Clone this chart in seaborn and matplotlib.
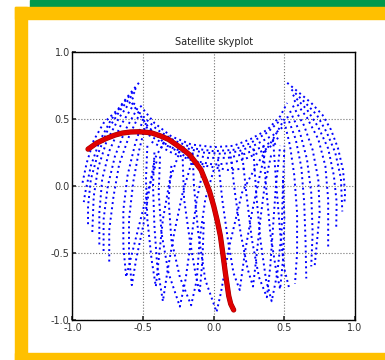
import pandas as pd
import matplotlib
matplotlib.use('Agg')
import matplotlib.pyplot as plt
import matplotlib.patheffects as pe
from matplotlib.patches import Rectangle
import seaborn as sns

# satellite tracks (x = east, y = north, unit circle)
track_x = {
    # left fan
    'F1': [-0.53, -0.60, -0.68, -0.78, -0.85, -0.90, -0.93],
    'F2': [-0.55, -0.64, -0.73, -0.81, -0.87, -0.91, -0.92],
    'F3': [-0.56, -0.66, -0.75, -0.82, -0.87, -0.89, -0.89],
    'F4': [-0.57, -0.67, -0.76, -0.82, -0.85, -0.86],
    'F5': [-0.56, -0.66, -0.74, -0.79, -0.81, -0.81],
    'F6': [-0.54, -0.63, -0.70, -0.75, -0.78, -0.78],
    'F7': [-0.52, -0.60, -0.67, -0.71, -0.74, -0.74],
    'F8': [-0.50, -0.56, -0.61, -0.64, -0.64, -0.62, -0.59, -0.53, -0.47, -0.40],
    'F9': [-0.48, -0.53, -0.57, -0.60, -0.60, -0.58, -0.55, -0.50, -0.46, -0.42, -0.35],
    # right fan
    'G1': [0.52, 0.60, 0.69, 0.77, 0.83, 0.88, 0.915, 0.93, 0.925],
    'G2': [0.55, 0.64, 0.73, 0.80, 0.86, 0.90, 0.91],
    'G3': [0.56, 0.66, 0.74, 0.81, 0.85, 0.87, 0.867],
    'G4': [0.57, 0.66, 0.74, 0.79, 0.81, 0.81],
    'G5': [0.56, 0.64, 0.70, 0.74, 0.75, 0.715],
    'G6': [0.54, 0.61, 0.66, 0.69, 0.70, 0.69],
    'G7': [0.52, 0.58, 0.62, 0.64, 0.65, 0.655],
    'G8': [0.50, 0.54, 0.57, 0.59, 0.59, 0.575],
    # bridge between the two hubs
    'B1': [-0.52, -0.42, -0.30, -0.16, 0.00, 0.14, 0.26, 0.38, 0.47, 0.52],
    'B2': [-0.50, -0.40, -0.28, -0.14, 0.00, 0.14, 0.26, 0.38, 0.48],
    'B3': [-0.48, -0.36, -0.22, -0.08, 0.06, 0.18, 0.30, 0.42, 0.50],
    'B4': [-0.46, -0.33, -0.18, -0.04, 0.10, 0.22, 0.34, 0.46],
    'B5': [-0.44, -0.30, -0.15, 0.00, 0.12, 0.24, 0.36, 0.46],
    'B6': [-0.58, -0.47, -0.35, -0.20, -0.05, 0.10, 0.22],
    # loops dropping to the south, left half
    'L1': [-0.47, -0.48, -0.47, -0.44, -0.41, -0.39, -0.36, -0.31, -0.24],
    'L2': [-0.42, -0.43, -0.42, -0.40, -0.36, -0.33, -0.28, -0.22, -0.15],
    'L3': [-0.38, -0.39, -0.37, -0.32, -0.24, -0.20, -0.16, -0.12, -0.07],
    'L4': [-0.30, -0.32, -0.30, -0.24, -0.16, -0.12, -0.10, -0.06, 0.00],
    'L5': [-0.22, -0.21, -0.17, -0.13, -0.10, -0.08, -0.07],
    'L6': [-0.15, -0.14, -0.11, -0.06, 0.02, 0.05, 0.11, 0.20, 0.30, 0.42, 0.50],
    # loops dropping to the south, right half
    'R1': [0.03, 0.06, 0.10, 0.14, 0.184, 0.22, 0.27, 0.32, 0.37],
    'R2': [0.12, 0.15, 0.19, 0.24, 0.278, 0.30, 0.33, 0.36, 0.41],
    'R3': [0.20, 0.23, 0.27, 0.32, 0.376, 0.40, 0.42, 0.44, 0.47],
    'R4': [0.28, 0.30, 0.33, 0.37, 0.41, 0.45, 0.48, 0.49, 0.50],
    'R5': [0.35, 0.37, 0.40, 0.44, 0.47, 0.49, 0.50, 0.49],
    'R6': [0.42, 0.44, 0.47, 0.50, 0.537],
}
track_y = {
    'F1': [0.77, 0.68, 0.57, 0.47, 0.34, 0.17, 0.02],
    'F2': [0.73, 0.62, 0.49, 0.33, 0.15, -0.05, -0.12],
    'F3': [0.70, 0.57, 0.42, 0.24, 0.05, -0.15, -0.30],
    'F4': [0.66, 0.51, 0.33, 0.13, -0.08, -0.35],
    'F5': [0.62, 0.45, 0.26, 0.05, -0.20, -0.46],
    'F6': [0.58, 0.41, 0.22, 0.00, -0.25, -0.50],
    'F7': [0.55, 0.37, 0.16, -0.08, -0.33, -0.57],
    'F8': [0.50, 0.30, 0.08, -0.18, -0.45, -0.68, -0.55, -0.30, -0.05, 0.20],
    'F9': [0.47, 0.26, 0.03, -0.25, -0.52, -0.74, -0.55, -0.30, -0.05, 0.20, 0.33],
    'G1': [0.77, 0.70, 0.62, 0.53, 0.42, 0.28, 0.12, -0.05, -0.13],
    'G2': [0.72, 0.63, 0.53, 0.40, 0.25, 0.06, -0.19],
    'G3': [0.68, 0.57, 0.44, 0.28, 0.08, -0.12, -0.31],
    'G4': [0.64, 0.51, 0.35, 0.15, -0.10, -0.46],
    'G5': [0.60, 0.45, 0.27, 0.05, -0.20, -0.59],
    'G6': [0.56, 0.40, 0.20, -0.05, -0.35, -0.60],
    'G7': [0.52, 0.35, 0.14, -0.12, -0.42, -0.69],
    'G8': [0.48, 0.30, 0.08, -0.20, -0.50, -0.73],
    'B1': [0.60, 0.47, 0.37, 0.31, 0.29, 0.30, 0.35, 0.42, 0.52, 0.62],
    'B2': [0.52, 0.42, 0.34, 0.28, 0.26, 0.27, 0.32, 0.40, 0.50],
    'B3': [0.44, 0.36, 0.29, 0.25, 0.24, 0.26, 0.31, 0.38, 0.45],
    'B4': [0.38, 0.30, 0.24, 0.21, 0.21, 0.24, 0.29, 0.36],
    'B5': [0.33, 0.25, 0.19, 0.16, 0.17, 0.21, 0.27, 0.33],
    'B6': [0.62, 0.45, 0.32, 0.22, 0.15, 0.12, 0.13],
    'L1': [0.30, 0.05, -0.25, -0.55, -0.75, -0.55, -0.25, 0.05, 0.26],
    'L2': [0.25, 0.00, -0.30, -0.60, -0.86, -0.65, -0.35, -0.05, 0.20],
    'L3': [0.22, -0.05, -0.35, -0.65, -0.90, -0.70, -0.40, -0.10, 0.15],
    'L4': [0.15, -0.10, -0.40, -0.68, -0.89, -0.70, -0.40, -0.10, 0.12],
    'L5': [0.20, -0.10, -0.40, -0.65, -0.80, -0.55, -0.25],
    'L6': [0.25, 0.00, -0.35, -0.70, -0.94, -0.80, -0.45, -0.05, 0.15, 0.35, 0.50],
    'R1': [0.20, -0.10, -0.40, -0.65, -0.776, -0.50, -0.20, 0.05, 0.28],
    'R2': [0.22, -0.05, -0.35, -0.62, -0.75, -0.55, -0.25, 0.00, 0.25],
    'R3': [0.25, -0.05, -0.40, -0.68, -0.83, -0.60, -0.30, 0.00, 0.30],
    'R4': [0.28, -0.05, -0.40, -0.70, -0.86, -0.65, -0.35, 0.00, 0.30],
    'R5': [0.30, 0.00, -0.35, -0.62, -0.77, -0.55, -0.25, 0.05],
    'R6': [0.35, 0.05, -0.35, -0.62, -0.776],
}

# the highlighted satellite
red_x = [-0.89, -0.83, -0.765, -0.70, -0.648, -0.59, -0.53, -0.47, -0.437, -0.38, -0.32,
         -0.225, -0.17, -0.131, -0.09, -0.06, -0.03, 0.0, 0.025, 0.047, 0.065, 0.082, 0.095,
         0.106, 0.12, 0.141]
red_y = [0.275, 0.32, 0.353, 0.38, 0.395, 0.403, 0.405, 0.40, 0.395, 0.375, 0.348,
         0.279, 0.232, 0.179, 0.12, 0.042, -0.04, -0.15, -0.26, -0.373, -0.51, -0.647, -0.74,
         -0.82, -0.88, -0.925]

ticks = [-1.0, -0.5, 0.0, 0.5, 1.0]
tick_labels = ['-1.0', '-0.5', '0.0', '0.5', '1.0']

rows = []
for name in track_x:
    for i, (x, y) in enumerate(zip(track_x[name], track_y[name])):
        rows.append({'track': name, 'order': i, 'x': x, 'y': y})
df = pd.DataFrame(rows)

sns.set_theme(style='ticks', rc={
    'axes.edgecolor': 'black',
    'axes.linewidth': 1.0,
    'axes.grid': True,
    'grid.color': '0.45',
    'grid.linestyle': ':',
    'grid.linewidth': 0.8,
    'xtick.direction': 'in',
    'ytick.direction': 'in',
    'xtick.color': '#333333',
    'ytick.color': '#333333',
    'axes.unicode_minus': False,
})
plt.rcParams['font.family'] = ['DejaVu Sans']

fig = plt.figure(figsize=(3.85, 3.6), dpi=100)
fig.patch.set_facecolor('white')

# frame decoration around the chart
fig.patches.append(Rectangle((0.078, 0.9814), 0.922, 0.0186, transform=fig.transFigure,
                             color='#00994C', zorder=0))
fig.patches.append(Rectangle((0.039, 0.947), 0.961, 0.0336, transform=fig.transFigure,
                             color='#FFC000', zorder=0))
fig.patches.append(Rectangle((0.039, 0.0), 0.031, 0.98, transform=fig.transFigure,
                             color='#FFC000', zorder=0))
fig.patches.append(Rectangle((0.039, 0.0), 0.961, 0.0203, transform=fig.transFigure,
                             color='#FFC000', zorder=0))

ax = fig.add_axes([0.1883, 0.1111, 0.7338, 0.7444])

sns.lineplot(data=df, x='x', y='y', units='track', estimator=None, sort=False,
             color='blue', lw=1.4, linestyle=(0, (1, 1.7)), ax=ax, legend=False)
sns.lineplot(x=red_x, y=red_y, sort=False, estimator=None, color='#e00000', lw=3.0,
             solid_capstyle='round', ax=ax,
             path_effects=[pe.Stroke(linewidth=3.8, foreground='#a00000'), pe.Normal()])

ax.set_xlim(-1, 1)
ax.set_ylim(-1, 1)
ax.set_xticks(ticks)
ax.set_xticklabels(tick_labels)
ax.set_yticks(ticks)
ax.set_yticklabels(tick_labels)
ax.tick_params(labelsize=7, length=3, pad=2)
ax.set_xlabel('')
ax.set_ylabel('')
ax.set_title('Satellite skyplot', fontsize=7, color='#222222', pad=5)
for s in ax.spines.values():
    s.set_visible(True)

fig.savefig('out.png', dpi=100)
